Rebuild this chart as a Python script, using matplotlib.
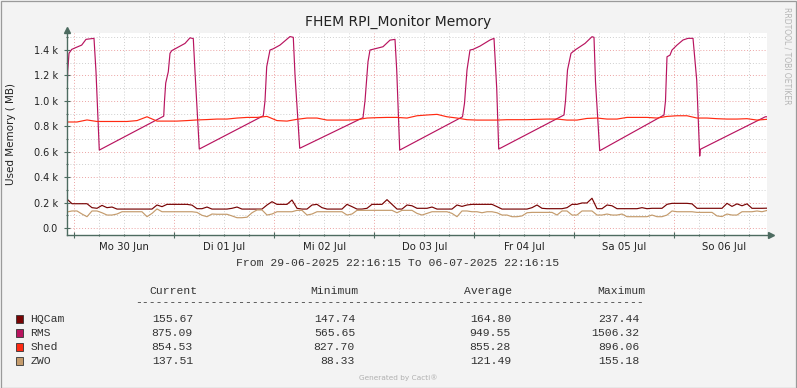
import matplotlib
matplotlib.use('Agg')
import numpy as np
from matplotlib import pyplot as plt
from matplotlib.ticker import FixedLocator, FuncFormatter, NullFormatter
from matplotlib.patches import Rectangle

# time axis: hours since 29-06-2025 22:16:15, one week
span_h = 168.0
first_midnight = 1 + 43.75 / 60
day_labels = ['Mo 30 Jun', 'Di 01 Jul', 'Mi 02 Jul', 'Do 03 Jul', 'Fr 04 Jul', 'Sa 05 Jul', 'So 06 Jul']

# RMS memory (MB), sawtooth breakpoints
rms_hours = [0.00, 0.17, 0.48, 1.13, 2.16, 3.53, 4.56, 6.48, 6.96, 7.75, 23.21,
             23.40, 23.69, 24.31, 24.72, 25.13, 28.32, 29.52, 30.31, 30.72, 31.75, 47.11,
             47.52, 47.93, 48.72, 49.51, 51.12, 53.52, 54.31, 54.72, 55.85, 71.04,
             71.52, 72.24, 72.72, 75.84, 77.52, 78.72, 79.13, 79.85, 94.92,
             95.40, 96.00, 96.72, 97.44, 99.12, 101.52, 102.48, 103.13, 103.61, 119.28,
             119.64, 120.12, 120.96, 121.92, 124.32, 126.00, 126.48, 126.84, 127.85, 143.28,
             143.64, 144.00, 144.72, 145.20, 146.40, 147.84, 149.04, 150.24, 151.13, 151.85, 151.99, 167.59, 168.0]
rms_values = [1007, 1235, 1374, 1405, 1420, 1439, 1484, 1492, 1229, 613, 880,
              1000, 1140, 1229, 1374, 1395, 1452, 1496, 1490, 1229, 621, 883,
              1000, 1269, 1400, 1410, 1439, 1506, 1500, 1203, 627, 868,
              1000, 1308, 1400, 1426, 1478, 1484, 1243, 613, 875,
              981, 1243, 1400, 1405, 1431, 1479, 1492, 1100, 621, 889,
              1000, 1243, 1374, 1400, 1452, 1505, 1500, 1150, 608, 889,
              1000, 1347, 1360, 1400, 1439, 1479, 1492, 1492, 1164, 566, 619, 875, 875]

# HQCam and ZWO, every 1.2 h
hqcam = [228, 191, 191, 191, 191, 160, 155, 178, 160, 165,
         149, 149, 149, 149, 149, 149, 149, 149, 181, 168,
         186, 186, 186, 186, 186, 180, 152, 152, 165, 149,
         149, 149, 149, 155, 165, 149, 149, 149, 149, 149,
         181, 207, 186, 186, 186, 220, 155, 149, 149, 181,
         186, 160, 149, 149, 149, 149, 186, 168, 149, 149,
         155, 186, 186, 186, 223, 186, 149, 149, 181, 175,
         155, 155, 155, 165, 149, 149, 149, 149, 181, 170,
         181, 186, 186, 186, 186, 186, 168, 149, 149, 149,
         149, 149, 149, 160, 181, 155, 152, 152, 152, 152,
         160, 186, 186, 197, 197, 234, 152, 152, 181, 175,
         152, 152, 152, 152, 152, 160, 152, 155, 155, 155,
         186, 194, 194, 194, 194, 190, 155, 155, 155, 155,
         155, 155, 194, 170, 190, 175, 190, 155, 155, 155,
         156]
zwo = [126, 134, 134, 110, 89, 134, 134, 120, 102, 102,
       110, 128, 128, 128, 128, 128, 89, 115, 150, 128,
       128, 128, 128, 128, 128, 128, 123, 100, 89, 110,
       108, 108, 108, 95, 81, 81, 85, 120, 142, 142,
       102, 110, 128, 128, 128, 128, 139, 139, 102, 110,
       128, 128, 128, 128, 128, 128, 102, 110, 139, 139,
       139, 139, 139, 139, 139, 139, 120, 139, 139, 139,
       115, 102, 115, 128, 128, 128, 128, 115, 89, 134,
       134, 128, 128, 120, 128, 128, 120, 102, 102, 89,
       89, 95, 120, 123, 123, 123, 123, 123, 102, 134,
       134, 102, 102, 134, 134, 134, 102, 102, 110, 102,
       102, 110, 89, 89, 89, 89, 89, 102, 89, 89,
       102, 134, 128, 128, 128, 128, 123, 123, 123, 123,
       95, 90, 110, 102, 102, 128, 128, 128, 134, 128,
       138]

# Shed, every 2.4 h
shed = [834, 834, 850, 838, 838, 838, 838, 845, 875, 841,
        841, 841, 845, 850, 853, 857, 857, 865, 870, 870,
        878, 845, 841, 855, 865, 865, 849, 849, 849, 852,
        865, 868, 870, 870, 865, 883, 889, 894, 875, 865,
        852, 849, 849, 849, 852, 852, 852, 855, 857, 857,
        849, 849, 862, 865, 857, 857, 870, 870, 870, 865,
        878, 883, 883, 865, 865, 860, 857, 857, 860, 849,
        855]

names = ['HQCam', 'RMS', 'Shed', 'ZWO']
colors = ['#780404', '#b8145f', '#ff2a12', '#c49b6c']
current = [155.67, 875.09, 854.53, 137.51]
minimum = [147.74, 565.65, 827.70, 88.33]
average = [164.80, 949.55, 855.28, 121.49]
maximum = [237.44, 1506.32, 896.06, 155.18]

axis_col = '#4d6b60'
fig = plt.figure(figsize=(7.97, 3.88), dpi=100, facecolor='#f3f3f3')
ax = fig.add_axes([67 / 797, 1 - 235 / 388, 700 / 797, 202 / 388])
ax.set_facecolor('white')

t_fine = np.linspace(0, span_h, len(hqcam))
t_shed = np.linspace(0, span_h, len(shed))
ax.plot(t_fine, hqcam, color=colors[0], lw=0.85)
ax.plot(rms_hours, rms_values, color=colors[1], lw=0.85)
ax.plot(t_shed, shed, color=colors[2], lw=0.85)
ax.plot(t_fine, zwo, color=colors[3], lw=0.85)

ax.set_xlim(0, span_h)
ax.set_ylim(-55, 1534)

midnights = [first_midnight + 24 * k for k in range(7)]
six_hours = [first_midnight + 6 * k for k in range(28) if k % 4 != 0]
noons = [first_midnight + 12 + 24 * k for k in range(7)]
ax.xaxis.set_major_locator(FixedLocator(midnights))
ax.xaxis.set_minor_locator(FixedLocator(six_hours))
ax.xaxis.set_major_formatter(NullFormatter())


def day_fmt(v, pos):
    for lab, n in zip(day_labels, noons):
        if abs(v - n) < 0.01:
            return lab
    return ''


ax.xaxis.set_minor_formatter(FuncFormatter(day_fmt))

ax.yaxis.set_major_locator(FixedLocator(range(0, 1401, 200)))
ax.yaxis.set_minor_locator(FixedLocator(range(100, 1501, 200)))
ax.yaxis.set_major_formatter(FuncFormatter(lambda v, p: '0.0' if v == 0 else '%.1f k' % (v / 1000)))

ax.grid(which='major', color='#eca4a4', linestyle=(0, (1, 2)), lw=0.7)
ax.grid(which='minor', color='#cfcfcf', linestyle=(0, (1, 2)), lw=0.7)
ax.set_axisbelow(True)

for s in ['top', 'right']:
    ax.spines[s].set_visible(False)
for s in ['left', 'bottom']:
    ax.spines[s].set_color(axis_col)
    ax.spines[s].set_linewidth(1.0)

ax.tick_params(which='both', colors=axis_col, labelcolor='#222222')
ax.tick_params(axis='x', which='major', direction='inout', length=4, width=0.8)
ax.tick_params(axis='x', which='minor', direction='inout', length=2, width=0.8, labelsize=7.3, pad=4)
ax.tick_params(axis='y', which='major', direction='inout', length=4, width=0.8, labelsize=7, pad=4.5)
ax.tick_params(axis='y', which='minor', direction='inout', length=2, width=0.8)

# axis arrows
ax.plot([1.006], [0], marker='>', ms=4, color=axis_col, transform=ax.transAxes, clip_on=False)
ax.plot([0], [1.015], marker='^', ms=4, color=axis_col, transform=ax.transAxes, clip_on=False)

fig.text(0.5, 1 - 22 / 388, 'FHEM RPI_Monitor Memory', ha='center', va='center', fontsize=10, color='#222222')
fig.text(11 / 797, 1 - 134 / 388, 'Used Memory ( MB)', rotation=90, ha='center', va='center',
         fontsize=7.5, color='#222222')
fig.text(787 / 797, 1 - 56 / 388, 'RRDTOOL / TOBI OETIKER', rotation=270, ha='center', va='center',
         fontsize=5.5, color='#b5b5b5')

# legend area in pixel coordinates
lg = fig.add_axes([0, 0, 1, 1])
lg.set_xlim(0, 797)
lg.set_ylim(388, 0)
lg.axis('off')
mono = dict(family='Liberation Mono', fontsize=8.2, color='#333333', va='center')

lg.text(398, 263, 'From 29-06-2025 22:16:15 To 06-07-2025 22:16:15', ha='center', **mono)
for lab, cx in zip(['Current', 'Minimum', 'Average', 'Maximum'], [173, 334, 488, 621]):
    lg.text(cx, 291, lab, ha='center', **mono)
lg.text(135.5, 302, '-' * 74, ha='left', **mono)

row_y = [319, 333, 347, 361]
for i, name in enumerate(names):
    y = row_y[i]
    lg.add_patch(Rectangle((16, y - 3.8), 7.5, 7.5, facecolor=colors[i], edgecolor='#333333', lw=0.6))
    lg.text(30.5, y, name, ha='left', **mono)
    lg.text(193, y, '%.2f' % current[i], ha='right', **mono)
    lg.text(355, y, '%.2f' % minimum[i], ha='right', **mono)
    lg.text(511, y, '%.2f' % average[i], ha='right', **mono)
    lg.text(639.5, y, '%.2f' % maximum[i], ha='right', **mono)

lg.text(398, 378, 'Generated by Cacti\u00ae', ha='center', va='center', fontsize=5.3, color='#b0b0b0')
lg.add_patch(Rectangle((0.5, 0.5), 796, 387, fill=False, edgecolor='#9a9a9a', lw=0.9))

fig.savefig('out.png', dpi=100, facecolor=fig.get_facecolor())
